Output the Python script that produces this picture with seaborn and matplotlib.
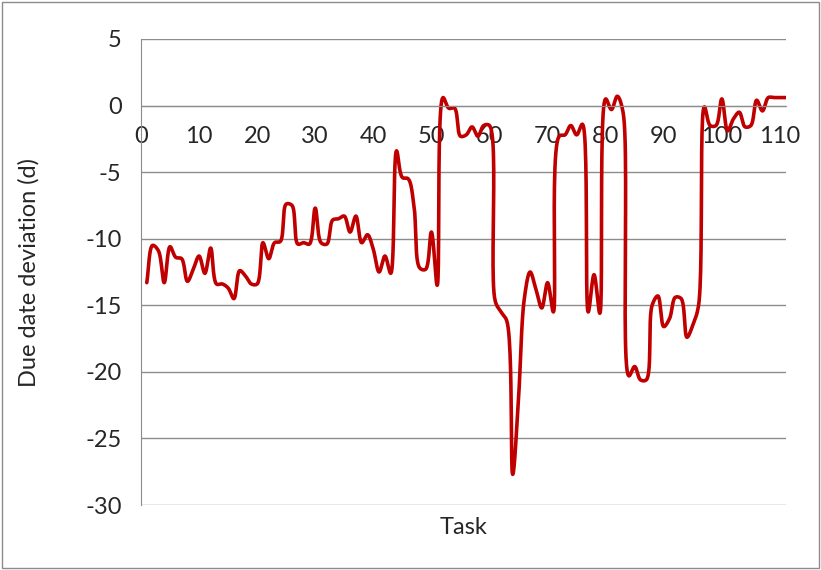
import numpy as np
import pandas as pd
import seaborn as sns
import matplotlib.pyplot as plt
from matplotlib.patches import Rectangle

# due date deviation per task
tasks = list(range(1, 112))
deviation = [
    -13.3, -10.5, -10.9, -13.3, -10.6, -11.4, -11.5, -13.2, -12.3, -11.3,
    -12.6, -10.7, -13.4, -13.4, -13.7, -14.5, -12.4, -12.8, -13.4, -13.4,
    -10.3, -11.5, -10.3, -10.2, -7.4, -7.5, -10.4, -10.3, -10.4, -7.7,
    -10.3, -10.4, -8.6, -8.5, -8.3, -9.5, -8.3, -10.3, -9.7, -10.8,
    -12.5, -11.3, -12.6, -3.4, -5.4, -5.5, -7.5, -12.2, -12.3, -9.5,
    -13.5, 0.6, -0.2, -0.2, -2.3, -2.2, -1.6, -2.3, -1.5, -1.5,
    -14.7, -15.5, -16.2, -27.7, -22.0, -14.5, -12.5, -13.8, -15.2, -13.3,
    -15.5, -2.3, -2.2, -1.5, -2.2, -1.4, -15.5, -12.7, -15.6, 0.5,
    -0.3, 0.7, -0.5, -20.3, -19.6, -20.6, -20.6, -15.0, -14.3, -16.6,
    -16.0, -14.4, -14.5, -17.4, -16.5, -15.0, -0.1, -1.5, -1.5, 0.5,
    -1.9, -1.0, -0.5, -1.6, -1.5, 0.4, -0.4, 0.6, 0.6, 0.6,
    0.6,
]
x_ticks = list(range(0, 111, 10))
y_ticks = list(range(-30, 6, 5))


def smooth(xs, ys, n=24, sx=5.8, sy=13.3, alpha=0.5):
    # centripetal catmull-rom in screen space, close to Excel's smoothed line
    p = np.column_stack([np.asarray(xs) * sx, np.asarray(ys) * sy]).astype(float)
    p = np.vstack([2 * p[0] - p[1], p, 2 * p[-1] - p[-2]])
    out = []
    for i in range(1, len(p) - 2):
        p0, p1, p2, p3 = p[i - 1], p[i], p[i + 1], p[i + 2]
        t0 = 0.0
        t1 = t0 + np.linalg.norm(p1 - p0) ** alpha
        t2 = t1 + np.linalg.norm(p2 - p1) ** alpha
        t3 = t2 + np.linalg.norm(p3 - p2) ** alpha
        t = np.linspace(t1, t2, n, endpoint=False)[:, None]
        a1 = (t1 - t) / (t1 - t0) * p0 + (t - t0) / (t1 - t0) * p1
        a2 = (t2 - t) / (t2 - t1) * p1 + (t - t1) / (t2 - t1) * p2
        a3 = (t3 - t) / (t3 - t2) * p2 + (t - t2) / (t3 - t2) * p3
        b1 = (t2 - t) / (t2 - t0) * a1 + (t - t0) / (t2 - t0) * a2
        b2 = (t3 - t) / (t3 - t1) * a2 + (t - t1) / (t3 - t1) * a3
        out.append((t2 - t) / (t2 - t1) * b1 + (t - t1) / (t2 - t1) * b2)
    out.append(p[-2][None, :])
    out = np.vstack(out)
    return out[:, 0] / sx, out[:, 1] / sy


sx, sy = smooth(tasks, deviation)
df = pd.DataFrame({'Task': sx, 'Deviation': sy})

sns.set_style('white')
plt.rcParams['font.family'] = ['Lato', 'DejaVu Sans']
plt.rcParams['axes.unicode_minus'] = False

fig = plt.figure(figsize=(8.21, 5.70), dpi=100)
ax = fig.add_axes([0.1717, 0.114, 0.7853, 0.8176])
sns.lineplot(data=df, x='Task', y='Deviation', color='#C00000',
             linewidth=2.6, estimator=None, sort=False, ax=ax)

ax.set_xlim(0, 111)
ax.set_ylim(-30, 5)
ax.set_xticks(x_ticks)
ax.set_yticks(y_ticks)
ax.yaxis.grid(True, color='#8c8c8c', linewidth=1)
ax.set_axisbelow(True)

for s in ['top', 'right']:
    ax.spines[s].set_visible(False)
ax.spines['bottom'].set_position(('data', 0))
ax.spines['bottom'].set_color('#8c8c8c')
ax.spines['left'].set_color('#8c8c8c')

ax.tick_params(axis='x', direction='out', length=5, color='#8c8c8c',
               labelsize=17, pad=10)
ax.tick_params(axis='y', length=0, labelsize=17, pad=14)

ax.set_xlabel('Task', fontsize=17)
ax.set_ylabel('Due date deviation (d)', fontsize=17)
ax.xaxis.set_label_coords(0.5, -0.025)
ax.yaxis.set_label_coords(-0.157, 0.5)

fig.patches.append(Rectangle((0.003, 0.004), 0.994, 0.992, transform=fig.transFigure,
                             fill=False, edgecolor='#8c8c8c', linewidth=1))

plt.savefig('out.png', dpi=100)
